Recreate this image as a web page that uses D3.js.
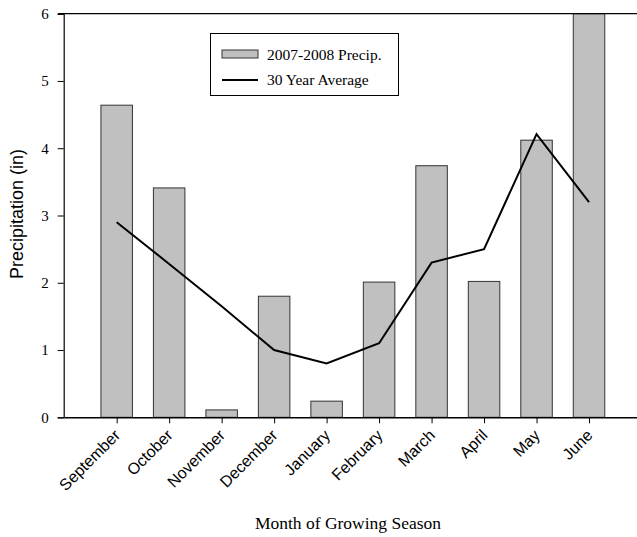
<!DOCTYPE html>
<html><head><meta charset="utf-8">
<script src="https://cdn.jsdelivr.net/npm/d3@7"></script>
<style>body{margin:0;background:#fff}svg{display:block}</style>
</head><body><svg id="c" width="637" height="537"></svg>
<script>
const months = ["September","October","November","December","January","February","March","April","May","June"];
const precip = [4.64, 3.41, 0.11, 1.80, 0.24, 2.01, 3.74, 2.02, 4.12, 6.0];
const avg30 = [2.9, 2.28, 1.65, 1.0, 0.8, 1.1, 2.3, 2.5, 4.21, 3.2];
const yTicks = [0,1,2,3,4,5,6];

const svg = d3.select("#c");
const x = d3.scaleLinear().domain([0, 11]).range([64.2, 641.5]);
const y = d3.scaleLinear().domain([0, 6]).range([417.3, 13.7]);
const bw = 31.5;

// bars
svg.append("g").selectAll("rect").data(precip).join("rect")
  .attr("x", (d,i)=>x(i+1)-bw/2).attr("y", d=>y(d))
  .attr("width", bw).attr("height", d=>y(0)-y(d))
  .attr("fill","#c0c0c0").attr("stroke","#333").attr("stroke-width",1);

// line
svg.append("path").datum(avg30)
  .attr("d", d3.line().x((d,i)=>x(i+1)).y(d=>y(d)))
  .attr("fill","none").attr("stroke","#000").attr("stroke-width",2);

// y axis
const ya = svg.append("g").attr("transform",`translate(${x(0)-0.5},0)`)
  .call(d3.axisLeft(y).tickValues(yTicks).tickSize(6).tickPadding(9).tickFormat(d3.format("d")));
ya.select(".domain").attr("stroke","#000").attr("stroke-width",1.2);
ya.selectAll("text").attr("font-family","Liberation Serif, Times New Roman, serif").attr("font-size",15).attr("fill","#000");

// x axis
const xa = svg.append("g").attr("transform",`translate(0,${y(0)})`)
  .call(d3.axisBottom(x).tickValues(d3.range(1,11)).tickSize(6).tickSizeOuter(0).tickFormat(d=>months[d-1]));
xa.select(".domain").attr("stroke","#000").attr("stroke-width",1.5);
xa.selectAll("text").attr("font-family","Liberation Sans, Arial, sans-serif").attr("font-size",16).attr("fill","#000")
  .attr("text-anchor","end").attr("dy",null).attr("y",0)
  .attr("transform","translate(4,19) rotate(-45)");

// top frame
svg.append("line").attr("x1",x(0)-6).attr("x2",x(11)).attr("y1",y(6)).attr("y2",y(6))
  .attr("stroke","#000").attr("stroke-width",1.2);

// axis titles
svg.append("text").attr("transform","translate(23,214) rotate(-90)").attr("text-anchor","middle")
  .attr("font-family","Liberation Sans, Arial, sans-serif").attr("font-size",18).text("Precipitation (in)");
svg.append("text").attr("x",348).attr("y",529).attr("text-anchor","middle")
  .attr("font-family","Liberation Serif, Times New Roman, serif").attr("font-size",17.5).text("Month of Growing Season");

// legend
const lg = svg.append("g");
lg.append("rect").attr("x",210.5).attr("y",33.5).attr("width",188).attr("height",62)
  .attr("fill","#fff").attr("stroke","#000").attr("stroke-width",1);
lg.append("rect").attr("x",222).attr("y",50).attr("width",36).attr("height",8)
  .attr("fill","#c0c0c0").attr("stroke","#333").attr("stroke-width",1);
lg.append("line").attr("x1",222).attr("x2",258).attr("y1",80).attr("y2",80)
  .attr("stroke","#000").attr("stroke-width",2);
lg.append("text").attr("x",267).attr("y",60).attr("font-family","Liberation Serif, Times New Roman, serif")
  .attr("font-size",15.5).text("2007-2008 Precip.");
lg.append("text").attr("x",267).attr("y",85).attr("font-family","Liberation Serif, Times New Roman, serif")
  .attr("font-size",15.5).text("30 Year Average");
</script></body></html>
